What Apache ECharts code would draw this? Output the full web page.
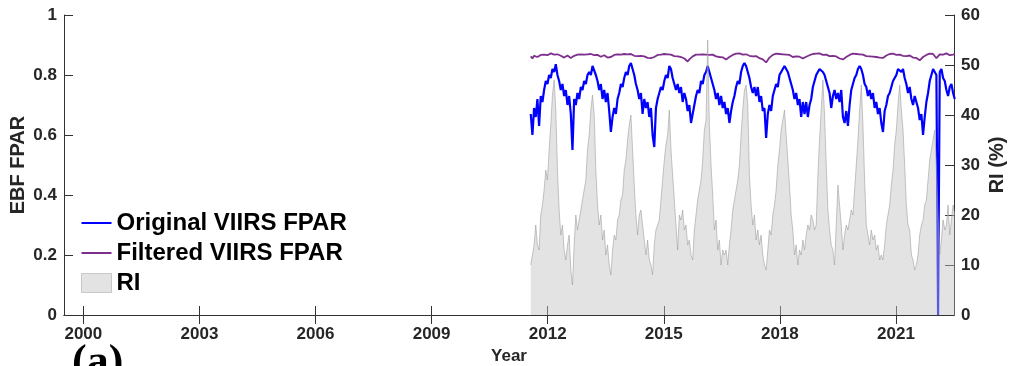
<!DOCTYPE html>
<html><head><meta charset="utf-8">
<script src="https://cdn.jsdelivr.net/npm/echarts@6/dist/echarts.min.js"></script>
<style>html,body{margin:0;padding:0;background:#fff}#c{width:1011px;height:366px}</style>
</head><body><div id="c"></div>
<script>
// sampling grid of the composites (decimal year)
const START = 2011.562, STEP = 0.043141;
const xTicks = [2000, 2003, 2006, 2009, 2012, 2015, 2018, 2021];
const seriesNames = ['Original VIIRS FPAR', 'Filtered VIIRS FPAR', 'RI'];

const fparOriginal = [
 0.67,0.60,0.69,0.66,0.72,0.63,0.73,0.71,
 0.75,0.78,0.77,0.80,0.79,0.82,0.81,0.836,0.80,0.78,0.75,0.77,0.73,0.75,0.70,0.73,0.67,0.55,0.72,0.70,0.74,0.72,0.76,
 0.75,0.78,0.77,0.80,0.81,0.80,0.83,0.825,0.80,0.78,0.75,0.77,0.72,0.75,0.71,0.74,0.68,0.61,0.66,0.69,0.67,0.72,0.74,
 0.77,0.76,0.79,0.81,0.80,0.83,0.84,0.82,0.80,0.77,0.75,0.72,0.74,0.67,0.72,0.69,0.71,0.66,0.69,0.60,0.56,0.69,0.72,
 0.74,0.76,0.75,0.78,0.80,0.79,0.83,0.82,0.79,0.77,0.75,0.77,0.74,0.76,0.71,0.74,0.72,0.68,0.70,0.64,0.67,0.70,0.73,
 0.75,0.74,0.78,0.77,0.80,0.81,0.83,0.81,0.79,0.77,0.75,0.72,0.74,0.70,0.73,0.69,0.71,0.67,0.69,0.64,0.68,0.71,0.73,
 0.76,0.78,0.77,0.81,0.83,0.84,0.83,0.81,0.79,0.76,0.74,0.76,0.73,0.76,0.71,0.73,0.68,0.69,0.59,0.67,0.70,0.68,0.73,
 0.75,0.77,0.76,0.80,0.81,0.82,0.83,0.83,0.81,0.79,0.77,0.75,0.72,0.74,0.70,0.72,0.66,0.71,0.67,0.71,0.66,0.70,0.72,
 0.76,0.78,0.80,0.81,0.82,0.82,0.81,0.80,0.78,0.76,0.74,0.69,0.73,0.75,0.72,0.74,0.71,0.75,0.66,0.64,0.68,0.63,0.70,
 0.75,0.77,0.79,0.80,0.82,0.83,0.82,0.80,0.77,0.76,0.73,0.75,0.72,0.74,0.69,0.71,0.67,0.69,0.64,0.61,0.68,0.70,0.73,
 0.74,0.76,0.78,0.79,0.80,0.82,0.82,0.81,0.82,0.79,0.77,0.74,0.76,0.72,0.70,0.73,0.71,0.69,0.65,0.67,0.60,0.66,0.71,
 0.74,0.78,0.80,0.82,0.81,0.80,0.00,0.81,0.82,0.79,0.78,0.75,0.73,0.76,0.77,0.74,0.72
];

const fparFiltered = [
 .862,.855,.864,.866,.860,.863,.867,.866,
 .868,.870,.866,.869,.872,.870,.868,.866,.869,.867,.864,.866,.858,.862,.865,.861,.857,.859,.864,.866,.868,.866,.869,
 .870,.868,.872,.869,.866,.870,.868,.866,.863,.867,.865,.861,.864,.866,.862,.858,.855,.860,.864,.867,.866,.869,.871,
 .868,.866,.870,.872,.869,.867,.870,.866,.864,.867,.863,.860,.864,.866,.862,.859,.857,.861,.856,.853,.860,.865,.867,
 .869,.868,.871,.870,.867,.869,.866,.868,.865,.863,.866,.862,.864,.860,.858,.855,.850,.845,.852,.858,.862,.866,.868,
 .870,.868,.866,.869,.871,.868,.870,.867,.865,.868,.866,.862,.864,.860,.857,.859,.855,.852,.856,.860,.864,.867,.869,
 .871,.869,.872,.870,.868,.866,.869,.867,.864,.866,.862,.859,.863,.860,.856,.858,.852,.848,.842,.850,.858,.864,.867,
 .869,.871,.868,.870,.872,.869,.866,.868,.865,.867,.863,.860,.864,.862,.859,.861,.857,.855,.858,.861,.864,.866,.868,
 .870,.868,.871,.869,.872,.870,.867,.865,.868,.866,.863,.861,.864,.860,.862,.858,.855,.857,.852,.856,.860,.864,.867,
 .869,.871,.868,.870,.872,.869,.867,.868,.865,.863,.866,.862,.864,.861,.858,.860,.856,.858,.854,.857,.861,.865,.868,
 .870,.868,.871,.869,.867,.870,.868,.866,.864,.867,.863,.861,.865,.862,.858,.855,.857,.853,.849,.852,.860,.864,.867,
 .869,.871,.868,.870,.867,.856,.862,.869,.871,.868,.870,.872,.869,.866,.869,.868,.870
];

const riPercent = [
 10,12,14,18,14,13,20,22,
 25,29,27,33,38,44,47,41,29,21,16,18,13,11,14,16,9,6,14,20,17,19,21,
 21,25,27,33,36,41,44,40,29,22,18,20,15,17,12,14,10,8,13,16,15,19,20,
 23,24,29,31,35,38,40,33,26,20,16,20,21,18,15,12,15,11,10,8,14,17,18,
 19,23,27,31,34,36,41,33,28,23,18,13,20,19,21,17,18,14,15,12,11,17,20,
 23,25,27,31,37,39,55,38,30,24,17,19,13,15,10,13,12,13,10,14,17,21,23,
 25,27,30,36,41,45,46,42,28,22,18,20,15,17,14,16,12,10,9,13,17,16,20,
 22,25,30,33,37,39,41,36,31,26,20,17,12,14,10,13,12,15,13,16,18,17,20,
 19,17,18,28,35,41,47,40,30,21,17,14,13,10,18,26,22,18,13,16,18,17,19,
 21,20,25,30,35,41,46,38,27,18,16,14,17,15,16,13,14,11,12,11,14,18,20,
 22,26,29,34,37,42,46,41,37,30,22,18,17,12,11,9,10,12,16,18,19,22,23,
 27,31,33,35,37,30,20,12,15,19,17,18,22,16,19,22,20
];

const toXY = arr => arr.map((v, i) => [START + i * STEP, v]);
const FONT = 'Liberation Sans, Arial, sans-serif';
const AX = '#262626';
const LINE_ICON = 'path://M0,0h30v2h-30z';

const chart = echarts.init(document.getElementById('c'), null, {renderer: 'canvas'});
const baseX = {
  type: 'value', min: 1999.5, max: 2022.5, gridIndex: 0,
  axisLine: {show: true, lineStyle: {color: '#333', width: 1}},
  axisTick: {show: true, inside: true, length: 9, customValues: xTicks, lineStyle: {color: '#333'}},
  splitLine: {show: false}
};
chart.setOption({
  animation: false,
  backgroundColor: '#fff',
  grid: {left: 64, top: 15, width: 890, height: 300, outerBoundsMode: 'none', containLabel: false},
  legend: {
    orient: 'vertical', left: 81, top: 211, padding: 0, itemGap: 6,
    itemWidth: 30, itemHeight: 19, symbolKeepAspect: true,
    textStyle: {fontFamily: FONT, fontWeight: 'bold', fontSize: 24, color: '#000'},
    data: [
      {name: seriesNames[0], icon: LINE_ICON},
      {name: seriesNames[1], icon: LINE_ICON},
      {name: seriesNames[2], icon: 'rect', itemStyle: {color: '#e3e3e3', borderColor: '#c8c8c8', borderWidth: 1}}
    ]
  },
  xAxis: [
    Object.assign({}, baseX, {
      position: 'bottom',
      name: 'Year', nameLocation: 'middle', nameGap: 32,
      nameTextStyle: {fontFamily: FONT, fontWeight: 'bold', fontSize: 17, color: AX},
      axisLabel: {show: true, customValues: xTicks, margin: 11, formatter: v => String(v),
        fontFamily: FONT, fontWeight: 'bold', fontSize: 17, color: AX}
    }),
    Object.assign({}, baseX, {position: 'top', axisLabel: {show: false}})
  ],
  yAxis: [
    {
      type: 'value', min: 0, max: 1, interval: 0.2, position: 'left',
      axisLine: {show: true, lineStyle: {color: '#333'}},
      axisTick: {show: true, inside: true, length: 9, lineStyle: {color: '#333'}},
      splitLine: {show: false},
      axisLabel: {margin: 7, fontFamily: FONT, fontWeight: 'bold', fontSize: 17, color: AX},
      name: 'EBF FPAR', nameLocation: 'middle', nameRotate: 90, nameGap: 36, nameMoveOverlap: false,
      nameTextStyle: {fontFamily: FONT, fontWeight: 'bold', fontSize: 20, color: AX}
    },
    {
      type: 'value', min: 0, max: 60, interval: 10, position: 'right',
      axisLine: {show: true, lineStyle: {color: '#333'}},
      axisTick: {show: true, inside: true, length: 9, lineStyle: {color: '#333'}},
      splitLine: {show: false},
      axisLabel: {margin: 7, fontFamily: FONT, fontWeight: 'bold', fontSize: 17, color: AX},
      name: 'RI (%)', nameLocation: 'middle', nameRotate: 90, nameGap: 33, nameMoveOverlap: false,
      nameTextStyle: {fontFamily: FONT, fontWeight: 'bold', fontSize: 20, color: AX}
    }
  ],
  series: [
    {
      name: seriesNames[0], type: 'line', xAxisIndex: 0, yAxisIndex: 0,
      data: toXY(fparOriginal), symbol: 'none', z: 2,
      lineStyle: {color: '#0000ff', width: 2.2}, itemStyle: {color: '#0000ff'}
    },
    {
      name: seriesNames[1], type: 'line', xAxisIndex: 0, yAxisIndex: 0,
      data: toXY(fparFiltered), symbol: 'none', z: 3,
      lineStyle: {color: '#7e2f8e', width: 1.8}, itemStyle: {color: '#7e2f8e'}
    },
    {
      name: seriesNames[2], type: 'line', xAxisIndex: 0, yAxisIndex: 1,
      data: toXY(riPercent), symbol: 'none', z: 4,
      lineStyle: {color: '#9a9a9a', width: 0.8, opacity: 0.7},
      itemStyle: {color: '#e3e3e3'},
      areaStyle: {color: '#c2c2c2', opacity: 0.46}
    }
  ],
  graphic: [
    {type: 'text', left: 72, top: 342, style: {text: '(a)', fontFamily: 'Liberation Serif, Times New Roman, serif', fontWeight: 'bold', fontSize: 44, fill: '#000'}}
  ]
});
</script>
</body></html>
